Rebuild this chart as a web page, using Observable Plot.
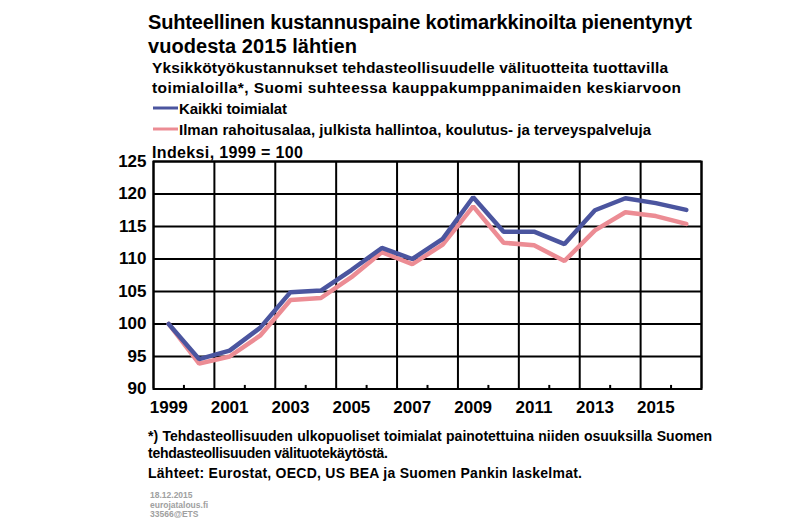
<!DOCTYPE html>
<html>
<head>
<meta charset="utf-8">
<script src="https://cdn.jsdelivr.net/npm/d3@7"></script>
<script src="https://cdn.jsdelivr.net/npm/@observablehq/plot@0.6"></script>
<style>
  html, body { margin: 0; padding: 0; background: #fff; }
  #chart { width: 800px; height: 523px; }
</style>
</head>
<body>
<div id="chart"></div>
<script>
const years = [1999, 2000, 2001, 2002, 2003, 2004, 2005, 2006, 2007, 2008, 2009, 2010, 2011, 2012, 2013, 2014, 2015, 2016];
const kaikkiToimialat = [100, 94.6, 95.9, 99.4, 104.9, 105.15, 108.3, 111.7, 110.0, 113.1, 119.5, 114.2, 114.2, 112.3, 117.5, 119.35, 118.6, 117.55];
const ilmanRahoitus = [100, 93.9, 95.0, 98.2, 103.7, 104.0, 107.2, 111.05, 109.2, 112.2, 118.1, 112.5, 112.1, 109.7, 114.4, 117.2, 116.6, 115.4];
const yTicks = [90, 95, 100, 105, 110, 115, 120, 125];
const xLabels = [1999, 2001, 2003, 2005, 2007, 2009, 2011, 2013, 2015];
const seriesNames = ["Kaikki toimialat", "Ilman rahoitusalaa, julkista hallintoa, koulutus- ja terveyspalveluja"];
const seriesColors = ["#4b559f", "#ec8c94"];

const titleLines = ["Suhteellinen kustannuspaine kotimarkkinoilta pienentynyt", "vuodesta 2015 lähtien"];
const subtitleLines = ["Yksikkötyökustannukset tehdasteollisuudelle välituotteita tuottavilla", "toimialoilla*, Suomi suhteessa kauppakumppanimaiden keskiarvoon"];
const unitLabel = "Indeksi, 1999 = 100";
const footLines = ["*) Tehdasteollisuuden ulkopuoliset toimialat painotettuina niiden osuuksilla Suomen", "tehdasteollisuuden välituotekäytöstä.", "Lähteet: Eurostat, OECD, US BEA ja Suomen Pankin laskelmat."];
const smallLines = ["18.12.2015", "eurojatalous.fi", "33566@ETS"];

const kaikki = years.map((y, i) => ({year: y, value: kaikkiToimialat[i]}));
const ilman = years.map((y, i) => ({year: y, value: ilmanRahoitus[i]}));

// band boundaries (every 2 years gridlines, odd boundaries tick marks)
const gridX = years.filter((y, i) => i % 2 === 0).map(y => y - 0.5).concat([years[years.length - 1] + 0.5]);
const tickX = years.filter((y, i) => i % 2 === 1).map(y => y - 0.5);

const FONT = "'Liberation Sans', Arial, Helvetica, sans-serif";

const svg = Plot.plot({
  width: 800,
  height: 523,
  marginLeft: 153,
  marginRight: 99,
  marginTop: 161,
  marginBottom: 134.5,
  style: {fontFamily: FONT, fontWeight: "bold", fontSize: "17px", color: "#000", background: "#fff", overflow: "visible"},
  x: {domain: [years[0] - 0.5, years[years.length - 1] + 0.5]},
  y: {domain: [yTicks[0], yTicks[yTicks.length - 1]]},
  marks: [
    Plot.ruleY(yTicks, {stroke: "#000", strokeWidth: 2}),
    Plot.ruleX(gridX, {stroke: "#000", strokeWidth: 2}),
    Plot.ruleX(tickX, {y1: yTicks[0], y2: yTicks[0] + 0.55, stroke: "#000", strokeWidth: 2}),
    Plot.line(ilman, {x: "year", y: "value", stroke: seriesColors[1], strokeWidth: 4.5, strokeLinejoin: "miter"}),
    Plot.line(kaikki, {x: "year", y: "value", stroke: seriesColors[0], strokeWidth: 4.5, strokeLinejoin: "miter"}),
    Plot.axisY({ticks: yTicks, tickSize: 0, tickPadding: 7, fontSize: 17, fontWeight: "bold", label: null}),
    Plot.axisX({ticks: xLabels, tickSize: 0, tickPadding: 12, fontSize: 17, fontWeight: "bold", tickFormat: d => String(d), label: null}),
    Plot.frame({stroke: "#000", strokeWidth: 2})
  ]
});

document.getElementById("chart").appendChild(svg);

const s = d3.select(svg);
function addText(txt, x, y, size, opts = {}) {
  const t = s.append("text")
    .attr("x", x).attr("y", y)
    .attr("text-anchor", "start")
    .attr("font-family", FONT)
    .attr("font-weight", "bold")
    .attr("font-size", size)
    .attr("fill", opts.fill || "#000")
    .text(txt);
  if (opts.width) {
    const len = t.node().getComputedTextLength();
    const spaces = (txt.match(/ /g) || []).length;
    if (opts.justify && spaces > 0) {
      t.attr("word-spacing", (opts.width - len) / spaces);
    } else {
      t.attr("letter-spacing", (opts.width - len) / Math.max(1, txt.length - 1));
    }
  }
  return t;
}

addText(titleLines[0], 148, 29, 20, {width: 544});
addText(titleLines[1], 148, 53, 20, {width: 209});
addText(subtitleLines[0], 152, 73, 15.5, {width: 516});
addText(subtitleLines[1], 152, 93, 15.5, {width: 529});

// legend
[0, 1].forEach(i => {
  const y = 108 + i * 21;
  s.append("line").attr("x1", 153).attr("x2", 178).attr("y1", y).attr("y2", y)
    .attr("stroke", seriesColors[i]).attr("stroke-width", 3);
  addText(seriesNames[i], 179, y + 5.5, 15, {width: i === 0 ? 108 : 472});
});
addText(unitLabel, 152, 158, 16, {width: 151});

addText(footLines[0], 148, 441, 14, {width: 564, justify: true});
addText(footLines[1], 148, 458, 14, {width: 240});
addText(footLines[2], 148, 478, 14, {width: 434});

smallLines.forEach((l, i) => addText(l, 150, 498 + i * 9.5, 8.5, {fill: "#a0a0a0"}));
</script>
</body>
</html>
